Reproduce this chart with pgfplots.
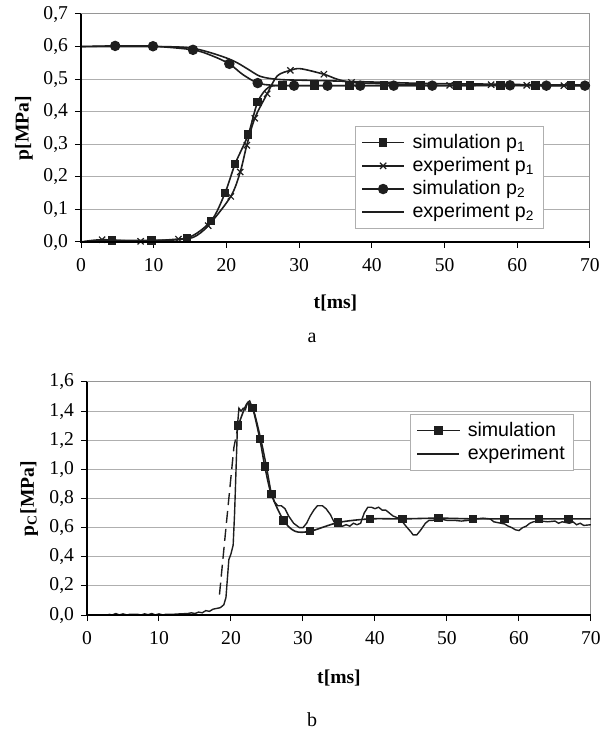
\documentclass[border=0pt]{standalone}
\usepackage{fontspec}
\setmainfont{Liberation Serif}
\newfontfamily\legendfont{Liberation Sans}
\usepackage{pgfplots}
\pgfplotsset{compat=1.18}

\definecolor{curve}{RGB}{30,30,30}
\definecolor{gridc}{RGB}{175,175,175}
\definecolor{framec}{RGB}{150,150,150}

\newcommand{\ticksize}{\fontsize{9.8bp}{11bp}\selectfont}
\newcommand{\legsize}{\legendfont\fontsize{9.8bp}{11bp}\selectfont}

\pgfplotsset{
  excel/.style={
    scale only axis,
    axis line style={framec, line width=0.5bp},
    ymajorgrids,
    major grid style={gridc, line width=0.5bp},
    tick align=outside,
    tick style={black, line width=0.5bp},
    major tick length=3bp,
    xtick pos=bottom, ytick pos=left,
    xmin=0, xmax=70, xtick={0,10,...,70},
    tick label style={font=\ticksize},
    /pgf/number format/assume math mode=true,
    yticklabel style={/pgf/number format/.cd, fixed, fixed zerofill, precision=1, use comma},
    xticklabel style={yshift=-1.5bp},
    legend cell align=left,
    legend image code/.code={%
      \draw[##1, mark indices={2}]
        plot coordinates {(0bp,0bp) (10.5bp,0bp) (21bp,0bp)};},
    every axis plot/.append style={curve, line width=0.8bp},
    legend style={draw=gridc, line width=0.5bp, font=\legsize, fill=white,
      row sep=0.4bp, inner xsep=3bp, inner ysep=2.5bp, nodes={inner sep=1.3bp},
      /tikz/every odd column/.append style={column sep=2.5bp}},
  },
  after end axis/.code={%
    \draw[black, line width=0.6bp] (rel axis cs:0,1) -- (rel axis cs:0,0) -- (rel axis cs:1,0);},
}

\begin{document}
\begin{tikzpicture}
\useasboundingbox (0,0) rectangle (301bp,365.5bp);

% chart a
\begin{axis}[
  excel,
  at={(40.5bp,244.5bp)}, anchor=south west,
  width=254.5bp, height=114bp,
  ymin=0, ymax=0.7, ytick={0,0.1,...,0.7},
  xlabel={t[ms]}, ylabel={p[MPa]},
  every axis x label/.style={at={(rel axis cs:0.5,-0.268)}, anchor=center, font=\ticksize\bfseries},
  every axis y label/.style={at={(rel axis cs:-0.112,0.5)}, anchor=center, rotate=90, font=\ticksize\bfseries},
  legend style={at={(0.538,0.509)}, anchor=north west},
]
\addplot[smooth, mark=square*, mark size=1.7bp,
  mark indices={2,3,4,5,6,7,8,9,11,12,13,14,15,16,17,18,19,20}] coordinates {
  (0,0.0) (4.3,0.005) (9.7,0.005) (14.6,0.012) (17.9,0.065) (19.8,0.15)
  (21.2,0.24) (23.0,0.33) (24.3,0.43) (25.8,0.475) (27.7,0.48) (32.1,0.48)
  (36.9,0.48) (41.7,0.48) (46.7,0.48) (51.8,0.48) (53.5,0.48) (57.7,0.48)
  (62.5,0.48) (67.4,0.48) (70,0.48)
};
\addlegendentry{simulation p\textsubscript{1}}
\addplot[smooth, mark=x, mark size=2.2bp, mark options={line width=0.6bp},
  mark indices={2,3,4,6,7,8,9,10,11,13,15,17,19,20,21,22,23}] coordinates {
  (0,0.0) (2.9,0.007) (8.2,0.002) (13.4,0.009) (15.5,0.015) (17.5,0.05)
  (20.6,0.14) (21.9,0.215) (22.8,0.297) (23.9,0.38) (25.6,0.455) (27.0,0.51)
  (28.8,0.527) (30.2,0.532) (33.4,0.515) (35.2,0.5) (37.2,0.49) (41.5,0.486)
  (46.7,0.482) (50.7,0.481) (56.4,0.483) (61.3,0.481) (66.4,0.48) (70,0.48)
};
\addlegendentry{experiment p\textsubscript{1}}
\addplot[smooth, mark=*, mark size=2.2bp,
  mark indices={2,3,4,6,8,10,11,12,13,14,15,16,17}] coordinates {
  (0,0.6) (4.7,0.602) (9.9,0.601) (15.4,0.59) (18,0.572) (20.4,0.547)
  (22.2,0.515) (24.3,0.488) (26.5,0.481) (29.3,0.48) (33.9,0.48) (38.4,0.48)
  (43.0,0.48) (48.3,0.48) (59.0,0.481) (64.0,0.48) (69.3,0.48) (70,0.48)
};
\addlegendentry{simulation p\textsubscript{2}}
\addplot[smooth, no marks] coordinates {
  (0,0.6) (10,0.6) (14,0.598) (16,0.592) (18,0.58) (20,0.565) (21.5,0.55)
  (23,0.53) (24.5,0.51) (26,0.502) (28,0.498) (32,0.496) (37,0.493)
  (42,0.49) (47,0.487) (55,0.485) (62,0.483) (70,0.482)
};
\addlegendentry{experiment p\textsubscript{2}}
\end{axis}

% chart b
\begin{axis}[
  excel,
  at={(43.5bp,58bp)}, anchor=south west,
  width=252bp, height=116.5bp,
  ymin=0, ymax=1.6, ytick={0,0.2,...,1.6},
  xlabel={t[ms]}, ylabel={p\textsubscript{C}[MPa]},
  every axis x label/.style={at={(rel axis cs:0.5,-0.27)}, anchor=center, font=\ticksize\bfseries},
  every axis y label/.style={at={(rel axis cs:-0.115,0.5)}, anchor=center, rotate=90, font=\ticksize\bfseries},
  legend style={at={(0.641,0.863)}, anchor=north west},
]
\addplot[smooth, mark=square*, mark size=1.7bp,
  mark indices={1,3,4,5,6,7,9,10,11,12,13,14,15,16,17}] coordinates {
  (21.0,1.30) (22.2,1.45) (23.0,1.42) (24.0,1.21) (24.7,1.02) (25.6,0.83)
  (27.3,0.65) (28.9,0.575) (31.0,0.575) (34.9,0.635) (39.3,0.66) (43.8,0.66)
  (48.8,0.665) (53.6,0.66) (58.0,0.66) (62.8,0.66) (66.9,0.66) (70,0.66)
};
\addlegendentry{simulation}
\addplot[no marks, line width=0.7bp] coordinates {
  (3,0.005) (3.5,0.0) (4,0.01) (4.5,0.0) (5,0.008) (5.5,0.0) (6,0.005)
  (7,0.005) (7.5,0.0) (8,0.008) (8.5,0.002) (9,0.01) (9.5,0.0) (10,0.008)
  (10.5,0.0) (11,0.005) (12,0.005) (13,0.008) (14,0.01) (14.5,0.015)
  (15,0.01) (15.5,0.02) (16,0.015) (16.5,0.03) (17,0.025) (17.5,0.04)
  (18,0.045) (18.5,0.05) (19,0.07) (19.3,0.12) (19.5,0.25) (19.7,0.38)
  (20,0.42) (20.3,0.48) (20.5,0.7) (20.7,1.0) (20.9,1.3) (21.1,1.42)
  (21.4,1.40) (21.7,1.42) (22,1.41) (22.3,1.46) (22.6,1.47) (22.9,1.43)
  (23.3,1.38) (23.8,1.28) (24.4,1.15) (25,1.0) (25.5,0.86) (26,0.78)
  (26.5,0.75) (27,0.75) (27.5,0.73) (28,0.68) (28.7,0.63) (29.5,0.60)
  (30,0.60) (30.5,0.63) (31,0.68) (31.5,0.72) (32,0.75) (32.7,0.75)
  (33.2,0.73) (33.8,0.69) (34.3,0.64) (35,0.62) (35.5,0.61) (36,0.62)
  (36.5,0.61) (37,0.63) (37.5,0.62) (38,0.63) (38.5,0.70) (39,0.74)
  (39.5,0.74) (40,0.73) (40.5,0.74) (41,0.72) (41.5,0.72) (42,0.70)
  (42.5,0.68) (43.5,0.66) (44.3,0.61) (45,0.57) (45.3,0.55) (45.8,0.55)
  (46.3,0.58) (47,0.63) (47.5,0.65) (48,0.65) (49,0.66) (50,0.65)
  (51,0.65) (52,0.645) (53,0.65) (54,0.66) (55,0.665) (56,0.66)
  (56.5,0.64) (57,0.635) (58,0.625) (58.5,0.61) (59,0.6) (59.5,0.585)
  (60,0.58) (60.5,0.6) (61,0.61) (61.5,0.63) (62,0.64) (63,0.645)
  (64,0.64) (65,0.645) (65.5,0.63) (66,0.64) (67,0.63) (67.5,0.64)
  (68,0.62) (68.5,0.63) (69,0.615) (70,0.62)
};
\addlegendentry{experiment}
\addplot[no marks, line width=0.7bp, dash pattern=on 6bp off 3bp, forget plot] coordinates {
  (18.4,0.14) (19.3,0.6) (20.4,1.15) (21.0,1.30)
};
\end{axis}

\node[font=\fontsize{10bp}{12bp}\selectfont, anchor=base] at (156bp,194bp) {a};
\node[font=\fontsize{10bp}{12bp}\selectfont, anchor=base] at (156bp,2.5bp) {b};
\end{tikzpicture}
\end{document}
